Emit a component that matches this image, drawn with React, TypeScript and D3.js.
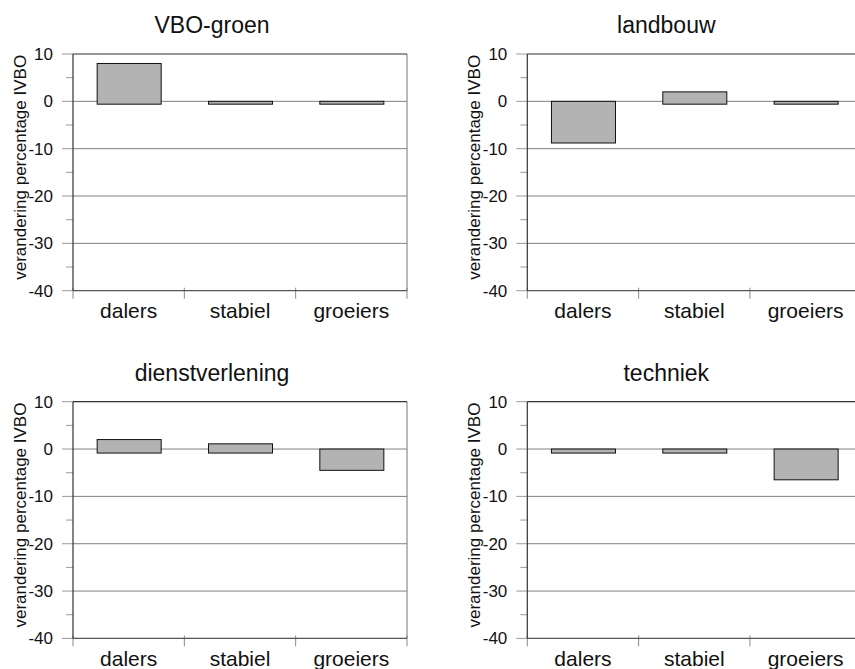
import React from "react";
import * as d3 from "d3";

const categories = ["dalers", "stabiel", "groeiers"];
const panelTitles = ["VBO-groen", "landbouw", "dienstverlening", "techniek"];
const vboGroen = [8, -0.6, -0.6];
const landbouw = [-8.8, 2, -0.6];
const dienstverlening = [2, 1.1, -4.5];
const techniek = [-0.85, -0.85, -6.5];
const panelFloors = [-0.6, -0.6, -0.85, -0.85];
const yTicks = [10, 0, -10, -20, -30, -40];
const yMinorTicks = [5, -5, -15, -25, -35];
const yLabel = "verandering percentage IVBO";

const panelValues = [vboGroen, landbouw, dienstverlening, techniek];

const W = 855;
const H = 669;
const colLefts = [73, 527.3];
const rowTops = [54, 401.7];
const plotW = 334;
const plotH = 236.7;
const FONT = "'Liberation Sans', Arial, Helvetica, sans-serif";

function Panel({ idx }: { idx: number }) {
  const col = idx % 2;
  const row = Math.floor(idx / 2);
  const left = colLefts[col];
  const top = rowTops[row];
  const right = left + plotW;
  const bottom = top + plotH;
  const y = d3.scaleLinear().domain([-40, 10]).range([bottom, top]);
  const x = d3.scaleBand().domain(categories).range([left, right]).padding(0);
  const bw = x.bandwidth() * 0.575;
  const values = panelValues[idx];
  const floor = panelFloors[idx];
  const boundaries = [...categories.map((c) => x(c) as number), right];

  return (
    <g>
      <text
        x={left + 139}
        y={top - 21}
        textAnchor="middle"
        fontFamily={FONT}
        fontSize={23}
        fill="#111"
      >
        {panelTitles[idx]}
      </text>
      {yTicks
        .filter((t) => t !== 10 && t !== -40)
        .map((t) => (
          <line
            key={"g" + t}
            x1={left}
            x2={right}
            y1={y(t)}
            y2={y(t)}
            stroke="#808080"
            strokeWidth={1}
          />
        ))}
      {yTicks.map((t) => (
        <line
          key={"t" + t}
          x1={left - 11}
          x2={left}
          y1={y(t)}
          y2={y(t)}
          stroke="#9a9a9a"
          strokeWidth={1}
        />
      ))}
      {yMinorTicks.map((t) => (
        <line
          key={"m" + t}
          x1={left - 7}
          x2={left}
          y1={y(t)}
          y2={y(t)}
          stroke="#9a9a9a"
          strokeWidth={1}
        />
      ))}
      {boundaries.map((b, i) => (
        <line
          key={"c" + i}
          x1={b}
          x2={b}
          y1={bottom - 3}
          y2={bottom + 8}
          stroke="#8a8a8a"
          strokeWidth={1}
        />
      ))}
      {values.map((v, i) => {
        const cx = (x(categories[i]) as number) + x.bandwidth() / 2 + 0.5;
        const yTop = y(Math.max(v, 0));
        const yBot = y(v < floor ? v : floor);
        return (
          <rect
            key={"b" + i}
            x={cx - bw / 2}
            y={yTop}
            width={bw}
            height={yBot - yTop}
            fill="#b3b3b3"
            stroke="#111"
            strokeWidth={1}
          />
        );
      })}
      <line x1={right} x2={right} y1={top} y2={bottom} stroke="#777" strokeWidth={1} />
      <line x1={left} x2={right} y1={bottom} y2={bottom} stroke="#555" strokeWidth={1.2} />
      <line x1={left} x2={right} y1={top} y2={top} stroke="#333" strokeWidth={1.2} />
      <line x1={left} x2={left} y1={top} y2={bottom} stroke="#333" strokeWidth={1.2} />
      {yTicks.map((t) => (
        <text
          key={"l" + t}
          x={left - 20}
          y={y(t) + 6}
          textAnchor="end"
          fontFamily={FONT}
          fontSize={17}
          fill="#111"
        >
          {t}
        </text>
      ))}
      {categories.map((c) => (
        <text
          key={"x" + c}
          x={(x(c) as number) + x.bandwidth() / 2}
          y={bottom + 27.5}
          textAnchor="middle"
          fontFamily={FONT}
          fontSize={21}
          fill="#111"
        >
          {c}
        </text>
      ))}
      <text
        transform={`translate(${left - 47},${(top + bottom) / 2 - 5}) rotate(-90)`}
        textAnchor="middle"
        fontFamily={FONT}
        fontSize={17}
        fill="#111"
      >
        {yLabel}
      </text>
    </g>
  );
}

export default function App() {
  return (
    <svg
      width={W}
      height={H}
      viewBox={`0 0 ${W} ${H}`}
      style={{ position: "absolute", left: 0, top: 0, background: "#fff" }}
    >
      <rect width={W} height={H} fill="#fff" />
      {panelTitles.map((_, i) => (
        <Panel key={i} idx={i} />
      ))}
    </svg>
  );
}
